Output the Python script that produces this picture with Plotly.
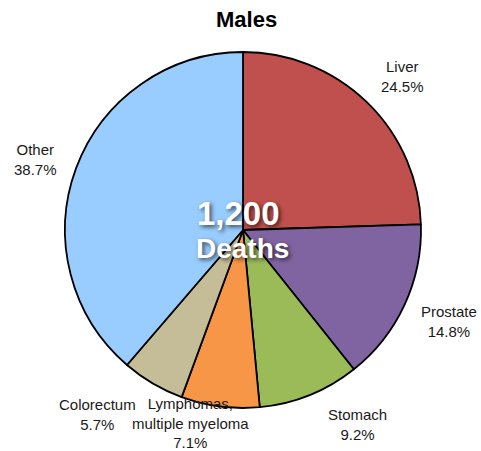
import math
import plotly.graph_objects as go

# ---- data ----
categories = ["Liver", "Prostate", "Stomach", "Lymphomas,<br>multiple myeloma", "Colorectum", "Other"]
values = [24.5, 14.8, 9.2, 7.1, 5.7, 38.7]
colors = ["#C0504D", "#8064A2", "#9BBB59", "#F79646", "#C4BD97", "#99CCFF"]
total_label = "1,200"
total_caption = "Deaths"
title_text = "Males"

# ---- layout geometry (pixels) ----
W, H = 481, 451
CX, CY, R = 243, 230, 178
label_k = 1.22
# small per-label nudges (px) so text sits like the reference
label_shift = [(8, 2), (9, 0), (33, -7), (-25, -22), (-36, -3), (-4, 5)]

fig = go.Figure()
fig.add_trace(go.Pie(
    labels=[c.replace("<br>", " ") for c in categories],
    values=values,
    sort=False,
    direction="clockwise",
    rotation=0,
    textinfo="none",
    hoverinfo="label+percent",
    marker=dict(colors=colors, line=dict(color="black", width=1.8)),
    domain=dict(x=[(CX - R) / W, (CX + R) / W], y=[(H - CY - R) / H, (H - CY + R) / H]),
    showlegend=False,
))

font_family = "Liberation Sans, Arial, Helvetica, sans-serif"
annotations = []
total = sum(values)
cum = 0.0
for i, (cat, v) in enumerate(zip(categories, values)):
    mid = (cum + v / 2) / total * 2 * math.pi
    cum += v
    px = CX + label_k * R * math.sin(mid) + label_shift[i][0]
    py = CY - label_k * R * math.cos(mid) + label_shift[i][1]
    annotations.append(dict(
        x=px / W, y=1 - py / H, xref="paper", yref="paper",
        text=f"{cat}<br>{v / total * 100:.1f}%",
        showarrow=False, xanchor="center", yanchor="middle", align="center",
        font=dict(family=font_family, size=15, color="#1a1a1a"),
    ))

shadow = "2px 2px 4px rgba(0,0,0,0.65)"
annotations.append(dict(
    x=238.5 / W, y=1 - 213 / H, xref="paper", yref="paper", text=f"<b>{total_label}</b>",
    showarrow=False, xanchor="center", yanchor="middle",
    font=dict(family=font_family, size=33, color="white", shadow=shadow),
))
annotations.append(dict(
    x=242 / W, y=1 - 248 / H, xref="paper", yref="paper", text=f"<b>{total_caption}</b>",
    showarrow=False, xanchor="center", yanchor="middle",
    font=dict(family=font_family, size=28, color="white", shadow=shadow),
))
annotations.append(dict(
    x=246.5 / W, y=1 - 20 / H, xref="paper", yref="paper", text=f"<b>{title_text}</b>",
    showarrow=False, xanchor="center", yanchor="middle",
    font=dict(family=font_family, size=22, color="black"),
))

fig.update_layout(
    width=W, height=H,
    margin=dict(l=0, r=0, t=0, b=0),
    paper_bgcolor="white", plot_bgcolor="white",
    annotations=annotations,
)

fig.write_html("out.html", config={"displayModeBar": False},
               post_script="document.body.style.margin='0';")
